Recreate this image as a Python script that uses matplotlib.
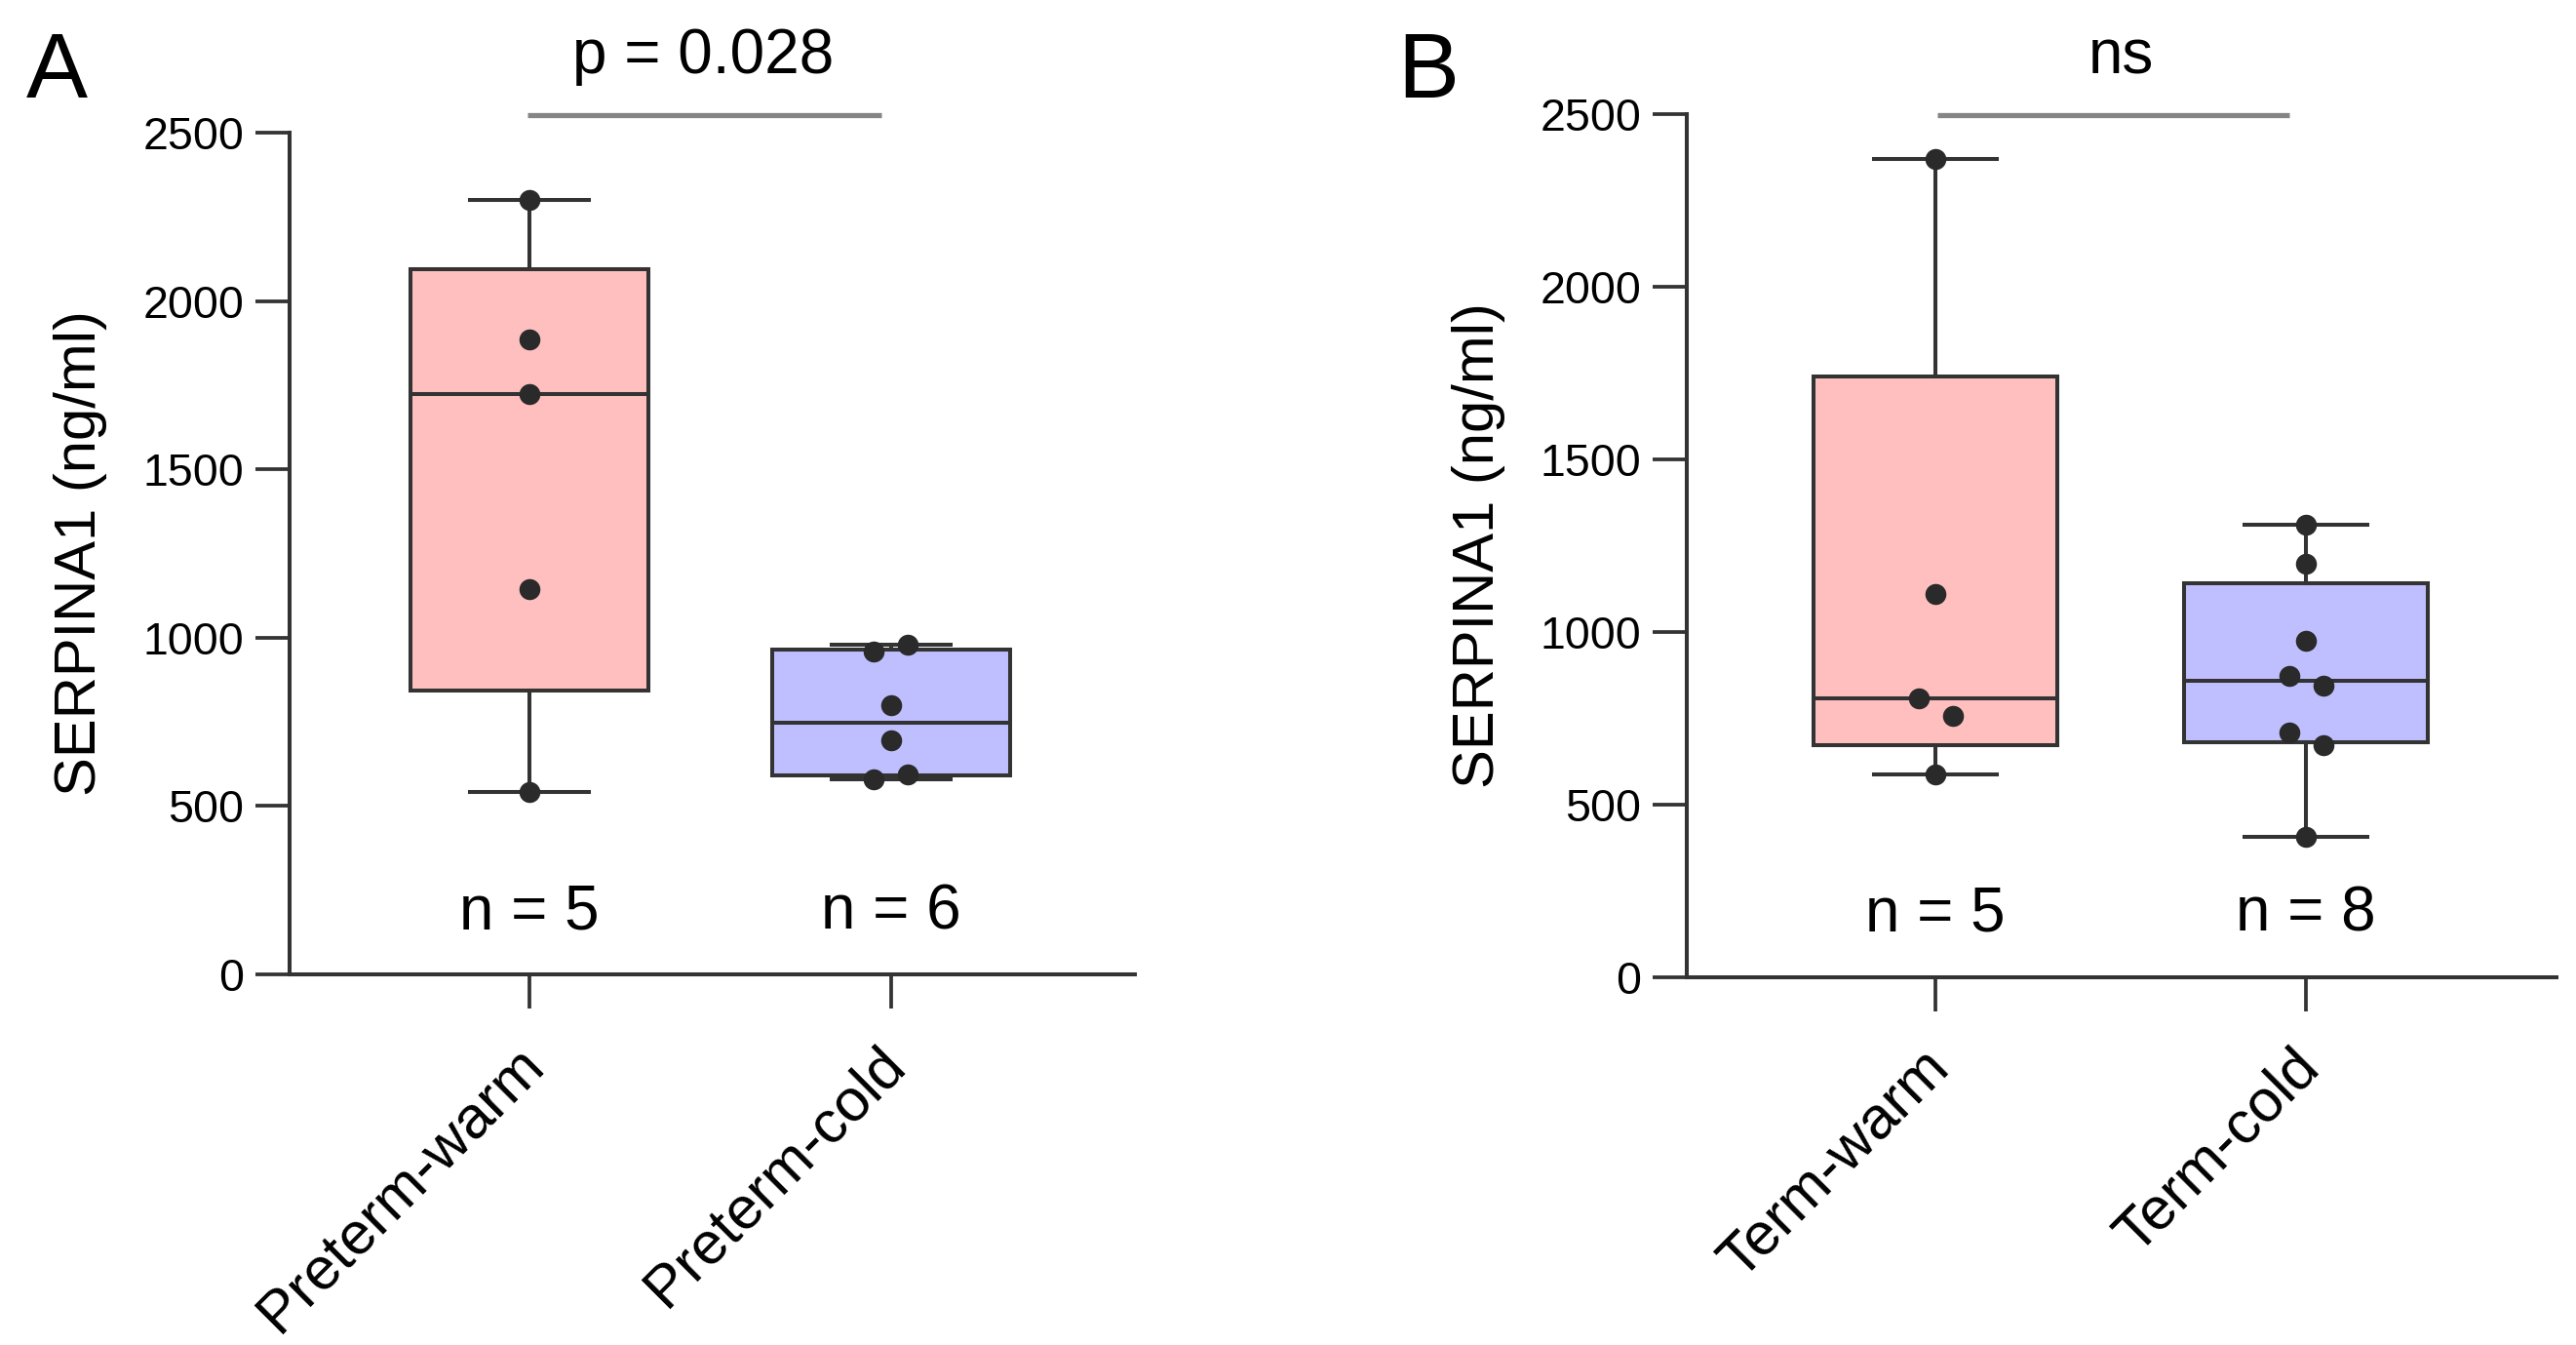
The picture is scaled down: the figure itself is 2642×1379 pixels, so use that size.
import numpy as np
import matplotlib
matplotlib.use('Agg')
import matplotlib.pyplot as plt
from matplotlib import transforms

plt.rcParams['font.family'] = ['Liberation Sans', 'DejaVu Sans']

# ---------------- data ----------------
groups_A = ['Preterm-warm', 'Preterm-cold']
preterm_warm = [2300, 1886, 1723, 1144, 542]
preterm_cold = [580, 595, 695, 800, 960, 980]

groups_B = ['Term-warm', 'Term-cold']
term_warm = [2371, 1110, 808, 757, 587]
term_cold = [1311, 1198, 975, 873, 845, 709, 672, 407]

sig_A = 'p = 0.028'
sig_B = 'ns'
panel_letters = ['A', 'B']
yticks = [0, 500, 1000, 1500, 2000, 2500]
ylabel = 'SERPINA1 (ng/ml)'

# ---------------- style ----------------
W, H = 2642, 1379
face_colors = ['#FFBFBF', '#BFBFFF']
edge = '#333333'
dot = '#2a2a2a'
LW = 2.9

fig = plt.figure(figsize=(W / 100, H / 100), dpi=100)


def box_stats(vals):
    v = np.asarray(vals, float)
    q1, med, q3 = np.percentile(v, [25, 50, 75], method='weibull')
    return dict(med=med, q1=q1, q3=q3, whislo=v.min(), whishi=v.max(), fliers=[])


def swarm_x(ax, pos, vals, offset_px=17.5, thresh_px=30):
    vals = np.asarray(vals, float)
    pts = ax.transData.transform(np.column_stack([np.full(len(vals), pos), vals]))
    x0, y_px = pts[0, 0], pts[:, 1]
    order = np.argsort(y_px)
    clusters, cur = [], [order[0]]
    for i in order[1:]:
        if abs(y_px[i] - y_px[cur[-1]]) < thresh_px:
            cur.append(i)
        else:
            clusters.append(cur)
            cur = [i]
    clusters.append(cur)
    xs_px = np.full(len(vals), x0)
    for c in clusters:
        c = sorted(c)
        k = len(c)
        for j, idx in enumerate(c):
            xs_px[idx] = x0 + (j - (k - 1) / 2) * 2 * offset_px
    return ax.transData.inverted().transform(np.column_stack([xs_px, y_px]))[:, 0]


def panel(rect, xlim, groups, datasets, sig, letter, letter_x, sig_line, sig_x):
    ax = fig.add_axes(rect)
    ax.set_xlim(*xlim)
    ax.set_ylim(0, 2500)
    pos = list(range(len(groups)))
    stats = [box_stats(d) for d in datasets]
    bp = ax.bxp(stats, positions=pos, widths=0.66, capwidths=0.33,
                showfliers=False, patch_artist=True,
                boxprops=dict(edgecolor=edge, linewidth=LW),
                whiskerprops=dict(color=edge, linewidth=LW),
                capprops=dict(color=edge, linewidth=LW),
                medianprops=dict(color=edge, linewidth=LW))
    for patch, fc in zip(bp['boxes'], face_colors):
        patch.set_facecolor(fc)
    for p, d in zip(pos, datasets):
        xs = swarm_x(ax, p, d)
        ax.plot(xs, d, 'o', color=dot, markersize=15.5, markeredgewidth=0, zorder=5)
        ax.text(p, 135, f'n = {len(d)}', ha='center', va='baseline', fontsize=46)

    for s in ['top', 'right']:
        ax.spines[s].set_visible(False)
    for s in ['left', 'bottom']:
        ax.spines[s].set_linewidth(2.9)
        ax.spines[s].set_color(edge)

    ax.set_yticks(yticks)
    ax.set_yticklabels([str(t) for t in yticks], fontsize=33.5)
    ax.tick_params(axis='y', length=25, width=2.7, color=edge, pad=8.5, direction='out')
    ax.set_xticks(pos)
    ax.set_xticklabels(groups, fontsize=44, rotation=45, ha='right', va='top',
                       rotation_mode='anchor')
    ax.tick_params(axis='x', length=25, width=2.7, color=edge, pad=21, direction='out')
    shift = transforms.ScaledTranslation(-0.15, 0, fig.dpi_scale_trans)
    for lab in ax.get_xticklabels():
        lab.set_transform(lab.get_transform() + shift)

    ax.set_ylabel(ylabel, fontsize=43, va='center')
    ax.yaxis.set_label_coords(-214 / (rect[2] * W), 0.5)

    tr = transforms.blended_transform_factory(ax.transData, fig.transFigure)
    ax.plot(sig_line, [1 - 118 / H] * 2, color='#858585', linewidth=3.8,
            transform=tr, clip_on=False, solid_capstyle='butt')
    ax.text(sig_x, 1 - 75 / H, sig, transform=tr, ha='center', va='baseline', fontsize=46)
    fig.text(letter_x / W, 1 - 100 / H, letter, ha='left', va='baseline', fontsize=68)
    return ax


panel([297 / W, 1 - 999 / H, (1164 - 297) / W, (999 - 136) / H],
      (-0.663, 1.674), groups_A, [preterm_warm, preterm_cold], sig_A,
      panel_letters[0], 27, [-0.005, 0.973], 0.48)
panel([1730 / W, 1 - 1002 / H, (2622 - 1730) / W, (1002 - 117) / H],
      (-0.671, 1.676), groups_B, [term_warm, term_cold], sig_B,
      panel_letters[1], 1433, [0.005, 0.955], 0.5)

fig.savefig('out.png', dpi=100)
